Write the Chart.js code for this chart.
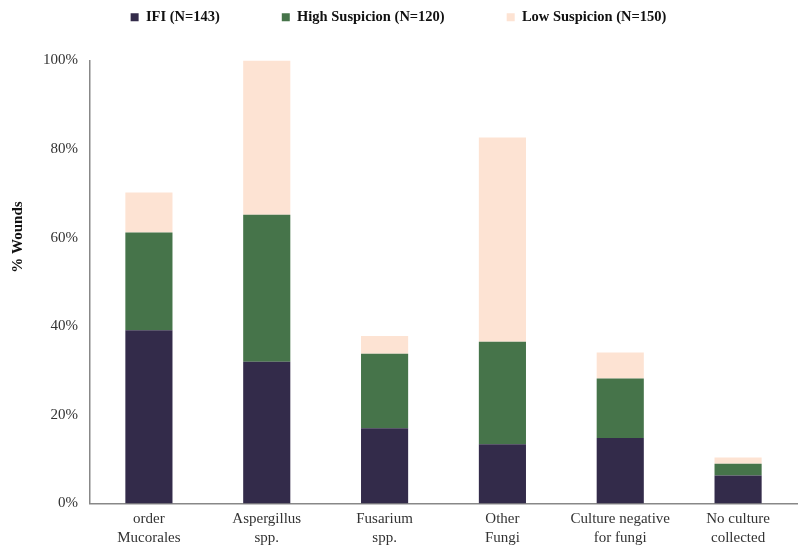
<!DOCTYPE html>
<html>
<head>
<meta charset="utf-8">
<script src="https://cdn.jsdelivr.net/npm/chart.js@4/dist/chart.umd.min.js"></script>
<style>
html,body{margin:0;padding:0;background:#fff;}
#wrap{width:801px;height:549px;position:relative;}
</style>
</head>
<body>
<div id="wrap"><canvas id="c" width="801" height="549"></canvas></div>
<script>
const categories = [['order','Mucorales'],['Aspergillus','spp.'],['Fusarium','spp.'],['Other','Fungi'],['Culture negative','for fungi'],['No culture','collected']];
const ifi = [39.1, 32.0, 17.0, 13.4, 14.8, 6.3];
const highSusp = [22.1, 33.2, 16.8, 23.1, 13.4, 2.7];
const lowSusp = [9.0, 34.8, 4.0, 46.1, 5.9, 1.4];
const seriesNames = ['IFI (N=143)', 'High Suspicion (N=120)', 'Low Suspicion (N=150)'];
const yTicks = [0, 20, 40, 60, 80, 100];
const yTitle = '% Wounds';

const serif = '"Liberation Serif", "Times New Roman", serif';

const legendSpace = {
  id: 'legendSpace',
  beforeLayout(chart) {
    const lg = chart.legend;
    if (lg && !lg._patched) {
      const f = lg.fit;
      lg.fit = function () { f.call(this); this.height += 26; };
      lg._patched = true;
    }
  }
};

new Chart(document.getElementById('c'), {
  type: 'bar',
  plugins: [legendSpace],
  data: {
    labels: categories,
    datasets: [
      {label: seriesNames[0], data: ifi, backgroundColor: '#332b4a'},
      {label: seriesNames[1], data: highSusp, backgroundColor: '#46744a'},
      {label: seriesNames[2], data: lowSusp, backgroundColor: '#fde3d3'}
    ]
  },
  options: {
    responsive: false,
    animation: false,
    layout: {padding: {left: 0, right: 4, top: -52, bottom: -4}},
    datasets: {bar: {barPercentage: 0.4, categoryPercentage: 1.0}},
    plugins: {
      tooltip: {enabled: false},
      legend: {
        position: 'top',
        align: 'center',
        labels: {
          boxWidth: 8, boxHeight: 8,
          padding: 62,
          color: '#111',
          font: {family: serif, size: 14.5, weight: 'bold'}
        }
      }
    },
    scales: {
      x: {
        stacked: true,
        grid: {display: false, drawTicks: false},
        border: {display: true, color: '#888', width: 1.5},
        ticks: {color: '#333', font: {family: serif, size: 15, lineHeight: 1.25}, padding: 6, maxRotation: 0, autoSkip: false}
      },
      y: {
        stacked: true,
        min: 0, max: 100,
        afterBuildTicks: (s) => { s.ticks = yTicks.map(v => ({value: v})); },
        afterFit: (s) => { s.width = 90; },
        grid: {display: false, drawTicks: false},
        border: {display: true, color: '#888', width: 1.5},
        title: {display: true, text: ' '.repeat(24) + yTitle, color: '#111', font: {family: serif, size: 15, weight: 'bold'}, padding: {top: 9, bottom: 0}},
        ticks: {color: '#333', font: {family: serif, size: 15}, padding: 12, callback: v => v + '%'}
      }
    }
  }
});
</script>
</body>
</html>
